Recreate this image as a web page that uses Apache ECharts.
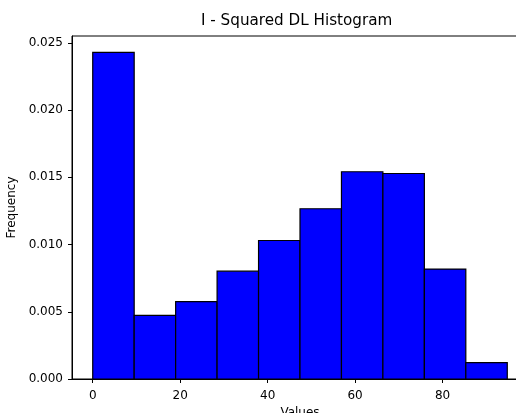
<!DOCTYPE html>
<html>
<head>
<meta charset="utf-8">
<script src="https://cdn.jsdelivr.net/npm/echarts@6/dist/echarts.min.js"></script>
<style>
html,body{margin:0;padding:0;background:#fff;}
#c{width:516px;height:413px;}
</style>
</head>
<body>
<div id="c"></div>
<script>
// Histogram bin edges (10 bins) and density values
const binEdges = [0, 9.48, 18.96, 28.44, 37.92, 47.4, 56.88, 66.36, 75.84, 85.32, 94.8];
const densities = [0.02429, 0.00473, 0.00575, 0.00802, 0.01030, 0.01266, 0.01541, 0.01528, 0.00817, 0.00122];
const xTicks = [0, 20, 40, 60, 80];
const yTicks = [0, 0.005, 0.010, 0.015, 0.020, 0.025];

const data = densities.map((v, i) => [binEdges[i], binEdges[i + 1], v]);
const span = binEdges[binEdges.length - 1] - binEdges[0];
const xMin = binEdges[0] - 0.05 * span;
const xMax = binEdges[binEdges.length - 1] + 0.05 * span;
const yMax = Math.max(...densities) * 1.05;

const font = 'DejaVu Sans';
const chart = echarts.init(document.getElementById('c'), null, {renderer: 'canvas'});
chart.setOption({
  animation: false,
  backgroundColor: '#fff',
  title: {
    text: 'I - Squared DL Histogram',
    left: 201, top: 14, padding: 0,
    textStyle: {fontFamily: font, fontSize: 15.2, fontWeight: 'normal', color: '#000'}
  },
  grid: {
    left: 72, top: 36, right: -12, bottom: 34,
    outerBoundsMode: 'none', containLabel: false,
    show: true, borderColor: '#000', borderWidth: 1, backgroundColor: 'transparent'
  },
  xAxis: {
    type: 'value', min: xMin, max: xMax,
    name: 'Values', nameLocation: 'middle', nameGap: 28,
    nameTextStyle: {fontFamily: font, fontSize: 12, color: '#000'},
    axisLine: {show: true, onZero: false, lineStyle: {color: '#000', width: 1}},
    axisTick: {show: true, length: 4, lineStyle: {color: '#000'}, customValues: xTicks},
    axisLabel: {fontFamily: font, fontSize: 12, color: '#000', margin: 11, customValues: xTicks},
    splitLine: {show: false}
  },
  yAxis: {
    type: 'value', min: 0, max: yMax,
    name: 'Frequency', nameLocation: 'middle', nameGap: 49, nameRotate: 90,
    nameTextStyle: {fontFamily: font, fontSize: 12, color: '#000'},
    axisLine: {show: true, onZero: false, lineStyle: {color: '#000', width: 1}},
    axisTick: {show: true, length: 4, lineStyle: {color: '#000'}, customValues: yTicks},
    axisLabel: {fontFamily: font, fontSize: 12, color: '#000', margin: 9, customValues: yTicks,
      formatter: v => v.toFixed(3)},
    splitLine: {show: false}
  },
  series: [{
    type: 'custom',
    data: data,
    encode: {x: [0, 1], y: 2},
    renderItem: function (params, api) {
      const p0 = api.coord([api.value(0), 0]);
      const p1 = api.coord([api.value(1), api.value(2)]);
      return {
        type: 'rect',
        shape: {x: p0[0], y: p1[1], width: p1[0] - p0[0], height: p0[1] - p1[1]},
        style: {fill: '#0000ff', stroke: '#000', lineWidth: 1.2}
      };
    }
  }]
});
</script>
</body>
</html>
